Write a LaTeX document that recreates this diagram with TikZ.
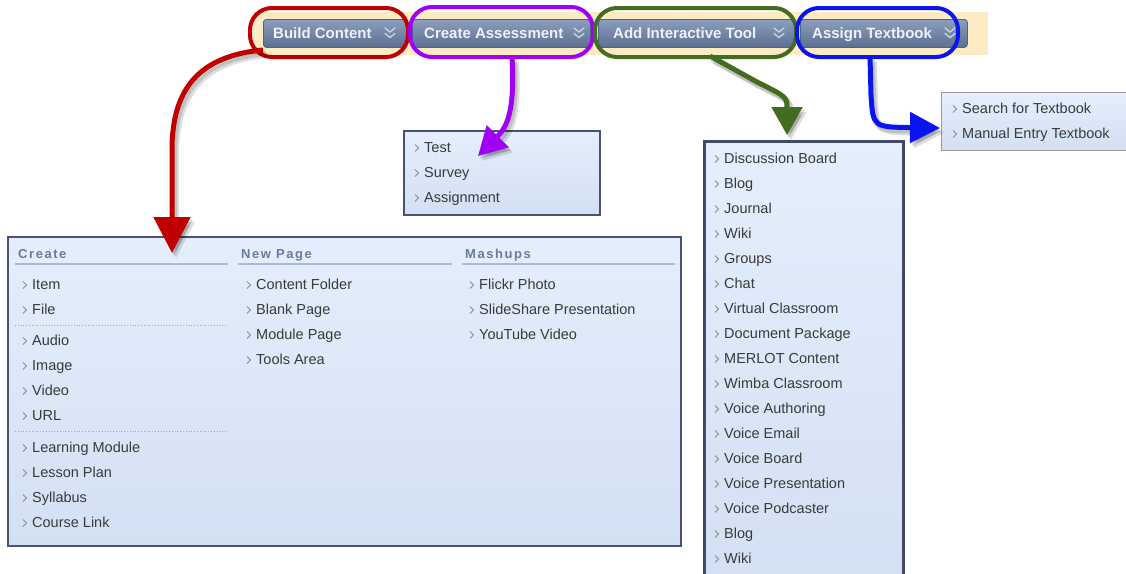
\documentclass[tikz,border=0pt]{standalone}
\usepackage{fontspec}
\setmainfont{Liberation Sans}
\usetikzlibrary{arrows.meta,calc}

\definecolor{menufillA}{HTML}{E4EEFC}
\definecolor{menufillB}{HTML}{D3E0F3}
\definecolor{menuedge}{HTML}{4A5274}
\definecolor{itemtext}{HTML}{3A3A3A}
\definecolor{chev}{HTML}{8C8C8C}
\definecolor{headtext}{HTML}{6A7C9E}
\definecolor{headrule}{HTML}{AABBD6}
\definecolor{barbg}{HTML}{FDEBC4}
\definecolor{btnA}{HTML}{8C9EBD}
\definecolor{btnB}{HTML}{5C6F91}
\definecolor{btnedge}{HTML}{4E6388}
\definecolor{btntext}{HTML}{EEF2F7}
\definecolor{btnchev}{HTML}{C9D1DD}
\definecolor{ringred}{HTML}{C00000}
\definecolor{ringpurple}{HTML}{A000F5}
\definecolor{ringgreen}{HTML}{426C1F}
\definecolor{ringblue}{HTML}{0A14F0}

\tikzset{
  menubox/.style={draw=menuedge, line width=1.5, top color=menufillA,
    bottom color=menufillB, inner sep=0, anchor=north west},
  btnbox/.style={draw=btnedge, line width=0.8, rounded corners=3,
    top color=btnA, bottom color=btnB, inner sep=0, minimum height=28,
    anchor=north west},
  btnlabel/.style={font=\bfseries\fontsize{15}{17}\selectfont, text=btntext,
    anchor=base west, inner sep=0},
  btnchevron/.style={draw=btnchev, line width=1.4, line cap=round},
  ring/.style={draw=#1, line width=4, rounded corners=22, inner sep=0,
    fill=none},
  itemlabel/.style={font=\fontsize{14.5}{17}\selectfont, text=itemtext,
    anchor=base west, inner sep=0},
  chevron/.style={draw=chev, line width=0.9},
  headlabel/.style={font=\bfseries\fontsize{13}{15}\selectfont\addfontfeature{LetterSpace=12},
    text=headtext, anchor=base west, inner sep=0},
  headrulestyle/.style={draw=headrule, line width=2},
  sepline/.style={draw=black!35, line width=0.8, dotted},
  flow/.style={draw=#1, line width=5},
  flowshadow/.style={draw=black, opacity=0.13, line width=6,
    transform canvas={shift={(#1,#1+1)}}},
}

% one menu entry: small chevron followed by its label
\newcommand\menuentry[4]{%
  \draw[chevron] ({#2-9},{#3-2.5}) -- ({#2-5.5},{#3+1}) -- ({#2-9},{#3+4.5});
  \node[itemlabel] (#1) at (#2,{#3+5.5}) {#4};
}
% double down chevron on a toolbar button
\newcommand\btnchevrons[2]{%
  \draw[btnchevron] ({#1-5},{#2-5}) -- (#1,{#2-1}) -- ({#1+5},{#2-5});
  \draw[btnchevron] ({#1-5},{#2+0.5}) -- (#1,{#2+4.5}) -- ({#1+5},{#2+0.5});
}
% a curved arrow with a soft shadow below it: colour, tip size, path
\newcommand\flowarrow[3]{%
  \path[flowshadow=2, -{Triangle[#2]}] #3;
  \path[flowshadow=4, -{Triangle[#2]}] #3;
  \path[flow=#1, -{Triangle[#2]}] #3;
}

\begin{document}
\begin{tikzpicture}[x=1pt,y=-1pt]
\useasboundingbox (0,0) rectangle (1126,573);
\fill[white] (0,0) rectangle (1126,573);

% ---------- toolbar ----------
\fill[barbg] (253,12) rectangle (988,55);
\node[btnbox, minimum width=143] (bc)  at (263,19) {};
\node[btnbox, minimum width=178] (ca)  at (412,19) {};
\node[btnbox, minimum width=197] (ait) at (598,19) {};
\node[btnbox, minimum width=167] (at)  at (800,19) {};
\node[btnlabel] (bct)  at (273,38.5) {Build Content};
\node[btnlabel] (cat)  at (424,38.5) {Create Assessment};
\node[btnlabel] (aitt) at (613,38.5) {Add Interactive Tool};
\node[btnlabel] (att)  at (812,38.5) {Assign Textbook};
\btnchevrons{390}{33}
\btnchevrons{579}{33}
\btnchevrons{779}{33}
\btnchevrons{950}{33}

% ---------- Build Content menu ----------
\node[menubox, minimum width=673, minimum height=309] (bigmenu) at (7,236) {};
\node[headlabel] (hcreate) at (18,258) {Create};
\node[headlabel] (hnew)    at (241,258) {New Page};
\node[headlabel] (hmash)   at (465,258) {Mashups};
\draw[headrulestyle] (15,264) -- (228,264);
\draw[headrulestyle] (238,264) -- (452,264);
\draw[headrulestyle] (462,264) -- (675,264);
\draw[sepline] (15,325) -- (226,325);
\draw[sepline] (15,431) -- (226,431);
\foreach \y/\t [count=\i] in {284/Item,309/File,340/Audio,365/Image,390/Video,
    415/URL,447/Learning Module,472/Lesson Plan,497/Syllabus,522/Course Link}
  {\menuentry{cr\i}{32}{\y}{\t}}
\foreach \y/\t [count=\i] in {284/Content Folder,309/Blank Page,334/Module Page,359/Tools Area}
  {\menuentry{np\i}{256}{\y}{\t}}
\foreach \y/\t [count=\i] in {284/Flickr Photo,309/SlideShare Presentation,334/YouTube Video}
  {\menuentry{ms\i}{479}{\y}{\t}}

% ---------- Create Assessment menu ----------
\node[menubox, line width=2, minimum width=196, minimum height=84] (camenu) at (403,130) {};
\foreach \y/\t [count=\i] in {147/Test,172/Survey,197/Assignment}
  {\menuentry{as\i}{424}{\y}{\t}}

% ---------- Add Interactive Tool menu ----------
\node[menubox, draw=menuedge!90!black, line width=2.6, minimum width=199, minimum height=450] (aitmenu) at (703,140) {};
\foreach \t [count=\i] in {Discussion Board,Blog,Journal,Wiki,Groups,Chat,
    Virtual Classroom,Document Package,MERLOT Content,Wimba Classroom,
    Voice Authoring,Voice Email,Voice Board,Voice Presentation,
    Voice Podcaster,Blog,Wiki}
  {\menuentry{it\i}{724}{158+25*(\i-1)}{\t}}

% ---------- Assign Textbook menu ----------
\node[menubox, draw=black!40, line width=1, minimum width=200, minimum height=58] (atmenu) at (941,92) {};
\menuentry{tb1}{962}{108}{Search for Textbook}
\menuentry{tb2}{962}{133}{Manual Entry Textbook}

% ---------- highlight rings ----------
\node[ring=ringred,    minimum width=158, minimum height=49] (rred)    at (329,32.5) {};
\node[ring=ringpurple, minimum width=183, minimum height=50] (rpurple) at (501.5,32) {};
\node[ring=ringgreen,  minimum width=201, minimum height=49] (rgreen)  at (695.5,32.5) {};
\node[ring=ringblue,   minimum width=161, minimum height=49] (rblue)   at (877.5,32.5) {};

% ---------- connector end points ----------
\coordinate (redstart) at (263,50);
\coordinate (redtip) at (172,253);
\coordinate (purplestart) at (512,57);
\coordinate (purpletip) at (478,156);
\coordinate (greenstart) at (710,56);
\coordinate (greenbend) at (757,82);
\coordinate (greentip) at (787,135);
\coordinate (bluestart) at (870,57);
\coordinate (bluebend) at (871,95);
\coordinate (bluetip) at (940,128);

% ---------- arrows ----------
\flowarrow{ringred}{length=36,width=36}
  {(redstart) .. controls (198,56) and (172,90) .. (172,150) -- (redtip)}
\flowarrow{ringpurple}{length=28,width=30}
  {(purplestart) .. controls (515,112) and (507,127) .. (purpletip)}
\flowarrow{ringgreen}{length=28,width=30}
  {(greenstart) -- (greenbend) .. controls (787,97) .. (greentip)}
\flowarrow{ringblue}{length=30,width=30}
  {(bluestart) -- (bluebend) .. controls (873,127) .. (bluetip)}

\end{tikzpicture}
\end{document}
